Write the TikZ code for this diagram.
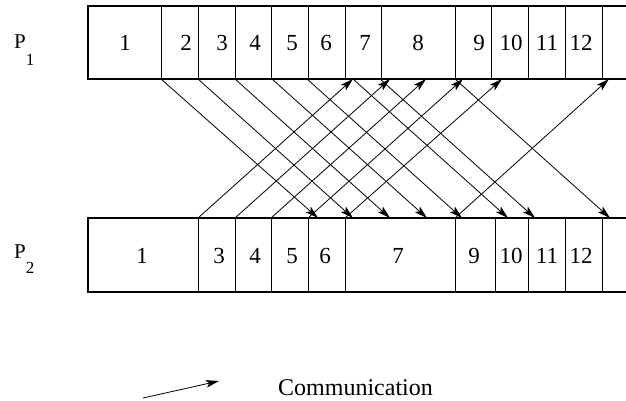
\documentclass[tikz,border=0pt]{standalone}
\usepackage{fontspec}
\setmainfont{Liberation Serif}
\usetikzlibrary{arrows.meta, positioning}

\begin{document}
\begin{tikzpicture}[x=1pt, y=-1pt,
    cell/.style={anchor=base, inner sep=0pt, font=\fontsize{23}{27}\selectfont},
    proc/.style={anchor=base west, inner sep=0pt, font=\fontsize{21}{25}\selectfont},
    idx/.style={anchor=base, inner sep=0pt, font=\fontsize{17}{20}\selectfont},
    msg/.style={-{Stealth[length=13pt, width=7.5pt, inset=3pt]}, line width=0.8pt}]
  \useasboundingbox (0,0) rectangle (626,400);

  % Processor names
  \node[proc] (p1) at (14,48) {P};
  \node[idx] (p1i) at (30,65) {1};
  \node[proc] (p2) at (14,258) {P};
  \node[idx] (p2i) at (30,273) {2};

  % Row of P1
  \draw[line width=1.1pt] (626,6) -- (88,6) -- (88,79) -- (626,79);
  \foreach \x in {161,198,235,271,308,345,381,455,491,528,565,602}
    \draw[line width=0.8pt] (\x,6) -- (\x,79);
  \foreach \x/\t [count=\i] in {125/1,186/2,222/3,255/4,292/5,326/6,365/7,418/8,479/9,511/10,547/11,581/12}
    \node[cell] (a\i) at (\x,50) {\t};

  % Row of P2
  \draw[line width=1.1pt] (626,218) -- (88,218) -- (88,292) -- (626,292);
  \foreach \x in {198,235,271,308,345,455,495,528,565,602}
    \draw[line width=0.8pt] (\x,218) -- (\x,292);
  \foreach \x/\t [count=\i] in {142/1,219/3,255/4,292/5,325/6,398/7,474/9,511/10,547/11,581/12}
    \node[cell] (b\i) at (\x,263) {\t};

  % Messages P1 -> P2
  \foreach \s/\e [count=\i] in {161/318,198/353,235/390,272/427,307/462,353/508,380/535,455/610} {
    \coordinate (d\i) at (\s,79);
    \coordinate (r\i) at (\e,218);
    \draw[msg] (d\i) -- (r\i);
  }

  % Messages P2 -> P1
  \foreach \s/\e [count=\i] in {198/353,235/390,271/426,308/463,345/502,455/609} {
    \coordinate (u\i) at (\s,218);
    \coordinate (v\i) at (\e,79);
    \draw[msg] (u\i) -- (v\i);
  }

  % Legend
  \coordinate (l0) at (143,398);
  \coordinate (l1) at (219,381);
  \draw[msg] (l0) -- (l1);
  \node[anchor=base west, inner sep=0pt, font=\fontsize{24}{28}\selectfont] (comm) at (278,395) {Communication};
\end{tikzpicture}
\end{document}
